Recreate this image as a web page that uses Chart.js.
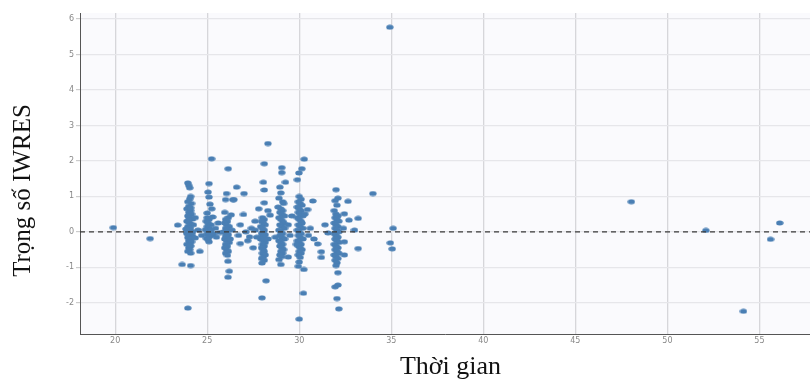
<!DOCTYPE html>
<html><head><meta charset="utf-8">
<script src="https://cdn.jsdelivr.net/npm/chart.js@4/dist/chart.umd.min.js"></script>
<style>html,body{margin:0;padding:0;background:#fff;overflow:hidden;width:810px;height:383px;}</style>
</head><body>
<canvas id="c" width="816" height="383"></canvas>
<script>
const xAxisTitle = 'Thời gian';
const yAxisTitle = 'Trọng số IWRES';
const xTicks = [20, 25, 30, 35, 40, 45, 50, 55];
const yTicks = [-2, -1, 0, 1, 2, 3, 4, 5, 6];
const xRange = [18.09, 57.8];
const yRange = [-2.88, 6.17];
const refLevel = 0;

const clusterEarly = [[19.9,0.12],[21.9,-0.19],[23.4,0.19],[23.64,-0.92],[24.1,-0.95],[23.95,-2.15]];
const cluster24 = [[23.95,1.38],[24.0,1.31],[24.05,1.24],[24.1,1.0],[24.05,0.93],[24.15,0.8],[24.0,0.72],[23.9,0.65],[24.1,0.6],[24.0,0.55],[24.15,0.5],[23.95,0.45],[24.05,0.4],[24.2,0.36],[23.9,0.3],[24.0,0.26],[24.1,0.22],[24.25,0.2],[23.95,0.15],[24.05,0.1],[24.0,0.05],[24.15,0.02],[23.9,-0.02],[24.05,-0.06],[24.0,-0.1],[24.2,-0.12],[23.95,-0.16],[24.1,-0.2],[24.0,-0.25],[24.05,-0.3],[23.9,-0.35],[24.1,-0.4],[24.0,-0.45],[24.05,-0.5],[23.95,-0.55],[24.1,-0.6],[24.0,0.34],[23.9,-0.05],[24.05,0.12],[24.15,-0.28],[24.35,0.4],[24.35,-0.17],[24.6,-0.55],[24.5,0.05],[24.7,-0.1],[24.1,0.68],[23.95,0.85],[24.05,-0.38],[23.85,0.08],[24.2,-0.02]];
const cluster25 = [[25.24,2.06],[25.1,1.36],[25.05,1.12],[25.1,0.98],[25.15,0.78],[25.25,0.65],[25.0,0.53],[25.3,0.42],[25.1,0.35],[24.95,0.3],[25.05,0.25],[25.2,0.2],[25.0,0.15],[25.1,0.1],[24.9,0.06],[25.05,0.02],[25.15,-0.02],[25.0,-0.06],[25.25,-0.1],[25.1,-0.14],[24.95,-0.18],[25.05,-0.22],[25.35,-0.05],[25.45,0.1],[25.5,-0.15],[25.6,0.25],[25.1,-0.28],[25.2,0.05],[25.0,0.4],[25.7,-0.02]];
const cluster26 = [[26.14,1.78],[26.05,1.08],[26.0,0.91],[26.4,0.91],[25.95,0.55],[26.15,0.4],[26.0,0.35],[26.1,0.3],[25.95,0.25],[26.05,0.2],[26.2,0.15],[26.0,0.1],[26.1,0.05],[25.9,0.0],[26.05,-0.04],[26.15,-0.08],[26.0,-0.12],[26.1,-0.16],[25.95,-0.2],[26.05,-0.25],[26.2,-0.3],[26.0,-0.35],[26.1,-0.4],[25.95,-0.45],[26.05,-0.5],[26.15,-0.55],[26.0,-0.6],[26.1,-0.66],[26.13,-0.83],[26.2,-1.11],[26.13,-1.28],[26.3,0.48],[26.25,-0.2],[26.35,0.05]];
const cluster27 = [[26.6,1.26],[27.0,1.08],[26.45,0.91],[26.97,0.49],[26.8,0.2],[27.1,0.0],[26.7,-0.1],[27.3,-0.14],[27.5,-0.45],[26.8,-0.33],[27.6,0.3],[27.4,0.1],[27.2,-0.25]];
const cluster28 = [[28.3,2.49],[28.1,1.92],[28.05,1.4],[28.1,1.18],[28.1,0.82],[27.8,0.65],[28.42,0.47],[28.0,0.4],[28.1,0.35],[27.95,0.3],[28.05,0.25],[28.15,0.2],[27.9,0.15],[28.0,0.1],[28.1,0.05],[28.05,0.0],[27.95,-0.04],[28.15,-0.08],[28.0,-0.12],[28.1,-0.16],[27.9,-0.2],[28.05,-0.25],[28.15,-0.3],[28.0,-0.35],[28.1,-0.4],[27.95,-0.45],[28.05,-0.5],[28.1,-0.55],[28.0,-0.6],[28.15,-0.65],[28.05,-0.7],[27.95,-0.75],[28.1,-0.8],[27.98,-0.88],[28.2,-1.38],[27.98,-1.86],[27.7,-0.15],[27.6,0.05],[28.3,0.6],[28.3,-0.2]];
const cluster29 = [[29.05,1.81],[29.05,1.67],[29.25,1.4],[28.95,1.26],[29.0,1.1],[28.9,0.95],[29.1,0.85],[29.15,0.8],[28.85,0.7],[29.0,0.65],[29.1,0.6],[28.95,0.55],[29.05,0.5],[29.2,0.45],[28.9,0.4],[29.0,0.35],[29.1,0.3],[29.15,0.25],[28.95,0.2],[29.05,0.15],[29.2,0.1],[28.9,0.05],[29.0,0.0],[29.1,-0.05],[28.95,-0.1],[29.05,-0.15],[29.2,-0.2],[28.9,-0.25],[29.0,-0.3],[29.1,-0.35],[28.95,-0.4],[29.05,-0.45],[29.15,-0.5],[29.0,-0.55],[29.1,-0.6],[28.95,-0.65],[29.05,-0.7],[28.9,-0.78],[29.0,-0.92],[29.4,-0.71],[29.4,0.2],[29.5,-0.1],[28.7,-0.15],[29.6,0.45]];
const cluster30 = [[30.27,2.05],[30.14,1.78],[29.98,1.66],[29.9,1.47],[30.0,1.0],[30.1,0.92],[29.95,0.85],[30.05,0.8],[30.15,0.75],[29.9,0.7],[30.0,0.65],[30.1,0.6],[29.95,0.55],[30.05,0.5],[30.2,0.45],[29.9,0.4],[30.0,0.35],[30.1,0.3],[30.15,0.25],[29.95,0.2],[30.05,0.15],[30.2,0.1],[29.9,0.05],[30.0,0.0],[30.1,-0.05],[29.95,-0.1],[30.05,-0.15],[30.2,-0.2],[29.9,-0.25],[30.0,-0.3],[30.1,-0.35],[29.95,-0.4],[30.05,-0.45],[30.15,-0.5],[30.0,-0.55],[30.1,-0.6],[29.95,-0.65],[30.05,-0.72],[29.95,-0.97],[30.25,-1.06],[30.23,-1.73],[30.0,-2.46],[30.0,-0.85],[30.3,0.5],[29.85,-0.35]];
const cluster31 = [[30.74,0.87],[30.45,0.63],[31.0,-0.34],[31.2,-0.56],[31.2,-0.72],[31.56,-0.03],[30.6,0.1],[30.5,-0.1],[31.4,0.2],[30.8,-0.2]];
const cluster32 = [[32.0,1.19],[32.1,0.95],[31.95,0.88],[32.05,0.75],[32.65,0.86],[32.45,0.51],[31.9,0.6],[32.0,0.5],[32.1,0.45],[31.95,0.4],[32.05,0.35],[32.15,0.3],[31.9,0.25],[32.0,0.2],[32.1,0.15],[31.95,0.1],[32.05,0.05],[32.15,0.0],[31.9,-0.05],[32.0,-0.1],[32.1,-0.15],[31.95,-0.2],[32.05,-0.25],[32.15,-0.3],[31.9,-0.35],[32.0,-0.4],[32.1,-0.45],[31.95,-0.5],[32.05,-0.55],[32.15,-0.6],[31.9,-0.65],[32.0,-0.7],[32.1,-0.75],[31.95,-0.8],[32.05,-0.87],[32.0,-0.95],[32.1,-1.15],[31.95,-1.55],[32.1,-1.5],[32.05,-1.88],[32.15,-2.17],[32.45,-0.28],[32.45,-0.65],[32.4,0.1]];
const cluster33to35 = [[33.2,0.38],[32.7,0.33],[33.2,-0.47],[33.0,0.05],[34.0,1.08],[34.92,5.77],[35.1,0.1],[34.95,-0.31],[35.05,-0.48]];
const clusterLate = [[48.04,0.85],[52.09,0.04],[54.13,-2.24],[55.6,-0.21],[56.1,0.25]];

const allPoints = [].concat(clusterEarly, cluster24, cluster25, cluster26, cluster27, cluster28,
  cluster29, cluster30, cluster31, cluster32, cluster33to35, clusterLate).map(p => ({x: p[0], y: p[1]}));

const dot = document.createElement('canvas');
dot.width = 8; dot.height = 6;
const g = dot.getContext('2d');
g.fillStyle = '#4a7fb4';
g.beginPath(); g.ellipse(4, 3, 3.7, 2.5, 0, 0, Math.PI * 2); g.fill();

const bgPlugin = {
  id: 'bg',
  beforeDraw(chart) {
    const {ctx, chartArea: a} = chart;
    ctx.save(); ctx.fillStyle = '#fafafd';
    ctx.fillRect(a.left, a.top, a.right - a.left, a.bottom - a.top);
    ctx.restore();
  }
};

// nudge the axis titles to where the reference places them
function wrapTitle(scale, key1, key2, delta) {
  const orig = scale.drawTitle;
  scale.drawTitle = function () {
    const a = this[key1], b = this[key2];
    this[key1] = a + delta; this[key2] = b + delta;
    orig.call(this);
    this[key1] = a; this[key2] = b;
  };
}
const titleShift = {
  id: 'titleShift',
  afterLayout(chart) {
    if (chart._titlesWrapped) return;
    wrapTitle(chart.scales.y, 'top', 'bottom', 17);
    wrapTitle(chart.scales.x, 'left', 'right', 5);
    chart._titlesWrapped = true;
  }
};

new Chart(document.getElementById('c'), {
  type: 'scatter',
  data: {
    datasets: [
      {
        type: 'line',
        data: [{x: xRange[0], y: refLevel}, {x: xRange[1], y: refLevel}],
        borderColor: '#3a3a3a', borderWidth: 1.2, borderDash: [5, 4],
        pointRadius: 0, fill: false, order: 0
      },
      {
        data: allPoints,
        pointStyle: dot, pointRadius: 3,
        backgroundColor: '#4a7fb4', borderColor: '#4a7fb4',
        order: 1
      }
    ]
  },
  options: {
    responsive: false, animation: false, devicePixelRatio: 1,
    layout: {padding: {top: 13, right: 0, left: 0, bottom: 0}},
    plugins: {legend: {display: false}, tooltip: {enabled: false}},
    scales: {
      x: {
        type: 'linear', min: xRange[0], max: xRange[1],
        afterFit(s) { s.height = 49; },
        afterBuildTicks(s) { s.ticks = xTicks.map(v => ({value: v})); },
        grid: {color: '#d6d6da', lineWidth: 1.3, drawTicks: false},
        border: {display: true, color: '#555', width: 1},
        ticks: {padding: 2, font: {size: 8, family: 'DejaVu Sans'}, color: '#888', maxRotation: 0},
        title: {display: true, text: xAxisTitle, font: {size: 26, family: 'Liberation Serif'}, color: '#111', padding: {top: 0, bottom: 0}}
      },
      y: {
        type: 'linear', min: yRange[0], max: yRange[1],
        afterFit(s) { s.width = 80; },
        afterBuildTicks(s) { s.ticks = yTicks.map(v => ({value: v})); },
        grid: {color: '#e6e6ea', lineWidth: 1.2, tickLength: 4, tickColor: '#ccc'},
        border: {display: true, color: '#555', width: 1},
        ticks: {padding: 2, font: {size: 8, family: 'DejaVu Sans'}, color: '#888'},
        title: {display: true, text: yAxisTitle, font: {size: 25, family: 'Liberation Serif'}, color: '#111', padding: {top: 8, bottom: 0}}
      }
    }
  },
  plugins: [bgPlugin, titleShift]
});
</script>
</body></html>
